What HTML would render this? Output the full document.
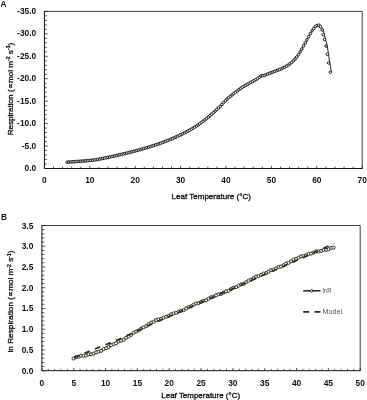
<!DOCTYPE html>
<html><head><meta charset="utf-8"><title>Figure</title>
<style>html,body{margin:0;padding:0;background:#fff}svg{display:block;will-change:transform}</style></head>
<body>
<svg width="367" height="400" viewBox="0 0 367 400" font-family="&quot;Liberation Sans&quot;, sans-serif">
<rect width="367" height="400" fill="#fff"/>
<path d="M44.4 11.4H362.2V168.5" fill="none" stroke="#2a2a2a" stroke-width="0.9"/>
<path d="M44.4 11.0V168.5H362.59999999999997" fill="none" stroke="#151515" stroke-width="1.0"/>
<path d="M44.40 168.5v-2.7M53.48 168.5v-1.8M62.56 168.5v-1.8M71.64 168.5v-1.8M80.72 168.5v-1.8M89.80 168.5v-2.7M98.88 168.5v-1.8M107.96 168.5v-1.8M117.04 168.5v-1.8M126.12 168.5v-1.8M135.20 168.5v-2.7M144.28 168.5v-1.8M153.36 168.5v-1.8M162.44 168.5v-1.8M171.52 168.5v-1.8M180.60 168.5v-2.7M189.68 168.5v-1.8M198.76 168.5v-1.8M207.84 168.5v-1.8M216.92 168.5v-1.8M226.00 168.5v-2.7M235.08 168.5v-1.8M244.16 168.5v-1.8M253.24 168.5v-1.8M262.32 168.5v-1.8M271.40 168.5v-2.7M280.48 168.5v-1.8M289.56 168.5v-1.8M298.64 168.5v-1.8M307.72 168.5v-1.8M316.80 168.5v-2.7M325.88 168.5v-1.8M334.96 168.5v-1.8M344.04 168.5v-1.8M353.12 168.5v-1.8M362.20 168.5v-2.7" stroke="#1a1a1a" stroke-width="0.75" fill="none"/>
<path d="M44.4 11.40h3.4M44.4 15.89h2.4M44.4 20.38h2.4M44.4 24.87h2.4M44.4 29.35h2.4M44.4 33.84h3.4M44.4 38.33h2.4M44.4 42.82h2.4M44.4 47.31h2.4M44.4 51.80h2.4M44.4 56.29h3.4M44.4 60.77h2.4M44.4 65.26h2.4M44.4 69.75h2.4M44.4 74.24h2.4M44.4 78.73h3.4M44.4 83.22h2.4M44.4 87.71h2.4M44.4 92.19h2.4M44.4 96.68h2.4M44.4 101.17h3.4M44.4 105.66h2.4M44.4 110.15h2.4M44.4 114.64h2.4M44.4 119.13h2.4M44.4 123.61h3.4M44.4 128.10h2.4M44.4 132.59h2.4M44.4 137.08h2.4M44.4 141.57h2.4M44.4 146.06h3.4M44.4 150.55h2.4M44.4 155.03h2.4M44.4 159.52h2.4M44.4 164.01h2.4M44.4 168.50h3.4" stroke="#1a1a1a" stroke-width="0.75" fill="none"/>
<text x="36.20" y="14.00" font-size="8.4" text-anchor="end" font-weight="bold" fill="#111">-35.0</text>
<text x="36.20" y="36.44" font-size="8.4" text-anchor="end" font-weight="bold" fill="#111">-30.0</text>
<text x="36.20" y="58.89" font-size="8.4" text-anchor="end" font-weight="bold" fill="#111">-25.0</text>
<text x="36.20" y="81.33" font-size="8.4" text-anchor="end" font-weight="bold" fill="#111">-20.0</text>
<text x="36.20" y="103.77" font-size="8.4" text-anchor="end" font-weight="bold" fill="#111">-15.0</text>
<text x="36.20" y="126.21" font-size="8.4" text-anchor="end" font-weight="bold" fill="#111">-10.0</text>
<text x="36.20" y="148.66" font-size="8.4" text-anchor="end" font-weight="bold" fill="#111">-5.0</text>
<text x="36.20" y="171.10" font-size="8.4" text-anchor="end" font-weight="bold" fill="#111">0.0</text>
<text x="44.40" y="183.30" font-size="8.4" text-anchor="middle" font-weight="bold" fill="#111">0</text>
<text x="89.80" y="183.30" font-size="8.4" text-anchor="middle" font-weight="bold" fill="#111">10</text>
<text x="135.20" y="183.30" font-size="8.4" text-anchor="middle" font-weight="bold" fill="#111">20</text>
<text x="180.60" y="183.30" font-size="8.4" text-anchor="middle" font-weight="bold" fill="#111">30</text>
<text x="226.00" y="183.30" font-size="8.4" text-anchor="middle" font-weight="bold" fill="#111">40</text>
<text x="271.40" y="183.30" font-size="8.4" text-anchor="middle" font-weight="bold" fill="#111">50</text>
<text x="316.80" y="183.30" font-size="8.4" text-anchor="middle" font-weight="bold" fill="#111">60</text>
<text x="362.20" y="183.30" font-size="8.4" text-anchor="middle" font-weight="bold" fill="#111">70</text>
<text x="211.20" y="198.50" font-size="7.8" text-anchor="middle" font-weight="normal" fill="#111" textLength="79.4" lengthAdjust="spacingAndGlyphs" stroke="#111" stroke-width="0.32">Leaf Temperature (°C)</text>
<text transform="translate(13.0,135.3) rotate(-90)" font-size="7.8" font-weight="normal" stroke="#111" stroke-width="0.32" fill="#111" textLength="40.9" lengthAdjust="spacingAndGlyphs">Respiration</text>
<text transform="translate(13.0,92.1) rotate(-90)" font-size="7.8" font-weight="normal" stroke="#111" stroke-width="0.32" fill="#111" textLength="49.3" lengthAdjust="spacingAndGlyphs">(∝mol m<tspan font-size="4.84" dy="-2.81">-2</tspan><tspan dy="2.81"> s</tspan><tspan font-size="4.84" dy="-2.81">-1</tspan><tspan dy="2.81">)</tspan></text>
<text x="0.60" y="6.90" font-size="8.2" text-anchor="start" font-weight="bold" fill="#111">A</text>
<polyline fill="none" stroke="#1a1a1a" stroke-width="1" points="67.20,162.20 67.58,162.17 67.95,162.15 68.33,162.12 68.71,162.10 69.08,162.07 69.46,162.05 69.84,162.02 70.21,161.99 70.59,161.97 70.97,161.94 71.34,161.91 71.72,161.89 72.09,161.86 72.47,161.83 72.85,161.81 73.22,161.78 73.60,161.75 73.98,161.72 74.35,161.70 74.73,161.67 75.11,161.64 75.48,161.61 75.86,161.59 76.24,161.56 76.61,161.53 76.99,161.50 77.37,161.47 77.74,161.44 78.12,161.41 78.50,161.39 78.87,161.36 79.25,161.33 79.63,161.30 80.00,161.27 80.38,161.24 80.76,161.21 81.13,161.18 81.51,161.16 81.88,161.13 82.26,161.10 82.64,161.07 83.01,161.04 83.39,161.02 83.77,160.99 84.14,160.96 84.52,160.93 84.90,160.91 85.27,160.88 85.65,160.85 86.03,160.82 86.40,160.79 86.78,160.76 87.16,160.73 87.53,160.70 87.91,160.67 88.29,160.64 88.66,160.60 89.04,160.57 89.42,160.54 89.79,160.50 90.17,160.47 90.55,160.43 90.92,160.39 91.30,160.35 91.67,160.31 92.05,160.27 92.43,160.23 92.80,160.19 93.18,160.14 93.56,160.09 93.93,160.04 94.31,159.99 94.69,159.93 95.06,159.87 95.44,159.81 95.82,159.75 96.19,159.69 96.57,159.62 96.95,159.56 97.32,159.49 97.70,159.42 98.08,159.35 98.45,159.29 98.83,159.22 99.21,159.15 99.58,159.08 99.96,159.01 100.34,158.94 100.71,158.87 101.09,158.80 101.46,158.73 101.84,158.65 102.22,158.58 102.59,158.50 102.97,158.43 103.35,158.35 103.72,158.28 104.10,158.20 104.48,158.12 104.85,158.04 105.23,157.97 105.61,157.89 105.98,157.81 106.36,157.73 106.74,157.64 107.11,157.56 107.49,157.48 107.87,157.40 108.24,157.32 108.62,157.23 109.00,157.15 109.37,157.07 109.75,156.98 110.13,156.90 110.50,156.81 110.88,156.73 111.25,156.65 111.63,156.56 112.01,156.48 112.38,156.39 112.76,156.31 113.14,156.22 113.51,156.14 113.89,156.05 114.27,155.97 114.64,155.88 115.02,155.80 115.40,155.71 115.77,155.63 116.15,155.54 116.53,155.46 116.90,155.37 117.28,155.28 117.66,155.20 118.03,155.11 118.41,155.03 118.79,154.94 119.16,154.86 119.54,154.77 119.92,154.68 120.29,154.60 120.67,154.51 121.04,154.42 121.42,154.34 121.80,154.25 122.17,154.16 122.55,154.07 122.93,153.99 123.30,153.90 123.68,153.81 124.06,153.72 124.43,153.63 124.81,153.54 125.19,153.45 125.56,153.36 125.94,153.27 126.32,153.18 126.69,153.09 127.07,153.00 127.45,152.91 127.82,152.82 128.20,152.73 128.58,152.64 128.95,152.54 129.33,152.45 129.71,152.36 130.08,152.26 130.46,152.17 130.83,152.07 131.21,151.98 131.59,151.88 131.96,151.79 132.34,151.69 132.72,151.60 133.09,151.50 133.47,151.40 133.85,151.30 134.22,151.20 134.60,151.11 134.98,151.01 135.35,150.91 135.73,150.81 136.11,150.71 136.48,150.60 136.86,150.50 137.24,150.40 137.61,150.30 137.99,150.20 138.37,150.09 138.74,149.99 139.12,149.88 139.50,149.78 139.87,149.68 140.25,149.57 140.62,149.46 141.00,149.36 141.38,149.25 141.75,149.14 142.13,149.04 142.51,148.93 142.88,148.82 143.26,148.71 143.64,148.60 144.01,148.49 144.39,148.38 144.77,148.27 145.14,148.16 145.52,148.05 145.90,147.94 146.27,147.83 146.65,147.71 147.03,147.60 147.40,147.49 147.78,147.37 148.16,147.26 148.53,147.14 148.91,147.03 149.29,146.91 149.66,146.80 150.04,146.68 150.41,146.56 150.79,146.44 151.17,146.33 151.54,146.21 151.92,146.09 152.30,145.97 152.67,145.85 153.05,145.73 153.43,145.61 153.80,145.49 154.18,145.37 154.56,145.24 154.93,145.12 155.31,145.00 155.69,144.87 156.06,144.75 156.44,144.62 156.82,144.50 157.19,144.37 157.57,144.24 157.95,144.11 158.32,143.98 158.70,143.84 159.08,143.71 159.45,143.58 159.83,143.44 160.20,143.31 160.58,143.17 160.96,143.03 161.33,142.90 161.71,142.76 162.09,142.62 162.46,142.48 162.84,142.34 163.22,142.20 163.59,142.05 163.97,141.91 164.35,141.77 164.72,141.62 165.10,141.48 165.48,141.33 165.85,141.19 166.23,141.04 166.61,140.89 166.98,140.74 167.36,140.59 167.74,140.44 168.11,140.29 168.49,140.14 168.87,139.99 169.24,139.83 169.62,139.68 169.99,139.52 170.37,139.37 170.75,139.21 171.12,139.05 171.50,138.90 171.88,138.74 172.25,138.58 172.63,138.42 173.01,138.26 173.38,138.10 173.76,137.94 174.14,137.77 174.51,137.61 174.89,137.45 175.27,137.28 175.64,137.12 176.02,136.95 176.40,136.78 176.77,136.61 177.15,136.44 177.53,136.27 177.90,136.10 178.28,135.92 178.66,135.74 179.03,135.57 179.41,135.39 179.78,135.21 180.16,135.03 180.54,134.85 180.91,134.66 181.29,134.48 181.67,134.30 182.04,134.12 182.42,133.93 182.80,133.75 183.17,133.56 183.55,133.38 183.93,133.19 184.30,133.00 184.68,132.81 185.06,132.62 185.43,132.43 185.81,132.24 186.19,132.04 186.56,131.85 186.94,131.65 187.32,131.45 187.69,131.25 188.07,131.05 188.45,130.84 188.82,130.63 189.20,130.43 189.57,130.21 189.95,130.00 190.33,129.79 190.70,129.57 191.08,129.35 191.46,129.13 191.83,128.90 192.21,128.68 192.59,128.45 192.96,128.22 193.34,127.99 193.72,127.76 194.09,127.52 194.47,127.29 194.85,127.05 195.22,126.81 195.60,126.56 195.98,126.32 196.35,126.07 196.73,125.82 197.11,125.57 197.48,125.32 197.86,125.06 198.24,124.81 198.61,124.55 198.99,124.29 199.36,124.02 199.74,123.76 200.12,123.49 200.49,123.22 200.87,122.94 201.25,122.67 201.62,122.39 202.00,122.10 202.38,121.82 202.75,121.53 203.13,121.24 203.51,120.95 203.88,120.65 204.26,120.36 204.64,120.06 205.01,119.75 205.39,119.45 205.77,119.15 206.14,118.84 206.52,118.53 206.90,118.22 207.27,117.91 207.65,117.60 208.03,117.29 208.40,116.97 208.78,116.65 209.15,116.34 209.53,116.02 209.91,115.70 210.28,115.38 210.66,115.05 211.04,114.73 211.41,114.40 211.79,114.07 212.17,113.74 212.54,113.40 212.92,113.07 213.30,112.73 213.67,112.39 214.05,112.05 214.43,111.70 214.80,111.36 215.18,111.01 215.56,110.66 215.93,110.31 216.31,109.96 216.69,109.61 217.06,109.25 217.44,108.89 217.82,108.54 218.19,108.18 218.57,107.82 218.94,107.45 219.32,107.09 219.70,106.71 220.07,106.33 220.45,105.95 220.83,105.56 221.20,105.16 221.58,104.77 221.96,104.37 222.33,103.96 222.71,103.56 223.09,103.16 223.46,102.76 223.84,102.36 224.22,101.97 224.59,101.57 224.97,101.18 225.35,100.80 225.72,100.42 226.10,100.05 226.48,99.69 226.85,99.34 227.23,98.99 227.61,98.65 227.98,98.31 228.36,97.98 228.73,97.66 229.11,97.33 229.49,97.01 229.86,96.70 230.24,96.38 230.62,96.07 230.99,95.76 231.37,95.46 231.75,95.16 232.12,94.85 232.50,94.55 232.88,94.26 233.25,93.96 233.63,93.66 234.01,93.37 234.38,93.07 234.76,92.78 235.14,92.48 235.51,92.19 235.89,91.90 236.27,91.62 236.64,91.33 237.02,91.04 237.40,90.76 237.77,90.48 238.15,90.21 238.52,89.93 238.90,89.66 239.28,89.39 239.65,89.12 240.03,88.86 240.41,88.60 240.78,88.34 241.16,88.09 241.54,87.84 241.91,87.60 242.29,87.36 242.67,87.12 243.04,86.88 243.42,86.65 243.80,86.42 244.17,86.20 244.55,85.97 244.93,85.75 245.30,85.53 245.68,85.31 246.06,85.09 246.43,84.87 246.81,84.65 247.19,84.43 247.56,84.22 247.94,84.00 248.31,83.79 248.69,83.57 249.07,83.35 249.44,83.13 249.82,82.91 250.20,82.70 250.57,82.49 250.95,82.29 251.33,82.08 251.70,81.88 252.08,81.68 252.46,81.48 252.83,81.28 253.21,81.09 253.59,80.89 253.96,80.69 254.34,80.48 254.72,80.28 255.09,80.08 255.47,79.87 255.85,79.65 256.22,79.44 256.60,79.21 256.98,78.99 257.35,78.75 257.73,78.51 258.10,78.27 258.48,78.01 258.86,77.72 259.23,77.37 259.61,76.99 259.99,76.63 260.36,76.32 260.74,76.09 261.12,75.98 261.49,75.92 261.87,75.87 262.25,75.84 262.62,75.80 263.00,75.76 263.38,75.70 263.75,75.62 264.13,75.50 264.51,75.35 264.88,75.18 265.26,75.01 265.64,74.83 266.01,74.66 266.39,74.50 266.77,74.36 267.14,74.21 267.52,74.07 267.89,73.92 268.27,73.78 268.65,73.63 269.02,73.49 269.40,73.34 269.78,73.20 270.15,73.06 270.53,72.92 270.91,72.77 271.28,72.63 271.66,72.49 272.04,72.35 272.41,72.20 272.79,72.06 273.17,71.92 273.54,71.77 273.92,71.63 274.30,71.49 274.67,71.35 275.05,71.21 275.43,71.07 275.80,70.93 276.18,70.79 276.56,70.65 276.93,70.51 277.31,70.37 277.68,70.23 278.06,70.08 278.44,69.94 278.81,69.79 279.19,69.64 279.57,69.48 279.94,69.32 280.32,69.16 280.70,69.00 281.07,68.84 281.45,68.67 281.83,68.51 282.20,68.34 282.58,68.17 282.96,68.00 283.33,67.82 283.71,67.64 284.09,67.46 284.46,67.27 284.84,67.08 285.22,66.88 285.59,66.68 285.97,66.47 286.35,66.25 286.72,66.03 287.10,65.80 287.47,65.56 287.85,65.31 288.23,65.06 288.60,64.80 288.98,64.53 289.36,64.26 289.73,63.98 290.11,63.68 290.49,63.39 290.86,63.08 291.24,62.77 291.62,62.45 291.99,62.12 292.37,61.78 292.75,61.44 293.12,61.08 293.50,60.71 293.88,60.33 294.25,59.92 294.63,59.50 295.01,59.06 295.38,58.62 295.76,58.15 296.14,57.68 296.51,57.20 296.89,56.71 297.26,56.21 297.64,55.70 298.02,55.17 298.39,54.62 298.77,54.05 299.15,53.47 299.52,52.88 299.90,52.28 300.28,51.66 300.65,51.05 301.03,50.41 301.41,49.75 301.78,49.08 302.16,48.39 302.54,47.70 302.91,47.01 303.29,46.32 303.67,45.64 304.04,44.97 304.42,44.30 304.80,43.63 305.17,42.96 305.55,42.29 305.93,41.61 306.30,40.94 306.68,40.26 307.05,39.58 307.43,38.89 307.81,38.19 308.18,37.48 308.56,36.76 308.94,36.05 309.31,35.35 309.69,34.66 310.07,34.00 310.44,33.36 310.82,32.72 311.20,32.09 311.57,31.46 311.95,30.85 312.33,30.26 312.70,29.70 313.08,29.17 313.46,28.68 313.83,28.22 314.21,27.77 314.59,27.33 314.96,26.93 315.34,26.57 315.72,26.28 316.09,26.05 316.47,25.85 316.84,25.66 317.30,25.49 317.82,25.34 318.33,25.22 318.85,25.14 319.36,25.10 319.88,25.20 320.39,25.55 320.90,26.05 321.33,26.62 321.71,27.15 322.09,27.68 322.46,28.27 322.84,28.96 323.22,29.79 323.59,30.97 323.97,32.64 324.35,34.37 324.72,35.93 325.10,37.46 325.48,38.99 325.85,40.49 326.23,41.92 326.61,43.37 326.98,44.96 327.36,46.83 327.73,49.10 328.11,51.60 328.49,54.12 328.86,56.65 329.24,59.25 329.62,61.76 329.99,64.06 330.37,66.25 330.75,68.35 331.12,70.34 331.50,72.20"/>
<g fill="#fff" stroke="#111" stroke-width="0.95">
<circle cx="67.20" cy="162.20" r="1.3"/>
<circle cx="68.90" cy="162.08" r="1.3"/>
<circle cx="70.60" cy="161.97" r="1.3"/>
<circle cx="72.30" cy="161.85" r="1.3"/>
<circle cx="74.00" cy="161.72" r="1.3"/>
<circle cx="75.70" cy="161.60" r="1.3"/>
<circle cx="77.40" cy="161.47" r="1.3"/>
<circle cx="79.10" cy="161.34" r="1.3"/>
<circle cx="80.80" cy="161.21" r="1.3"/>
<circle cx="82.50" cy="161.08" r="1.3"/>
<circle cx="84.20" cy="160.96" r="1.3"/>
<circle cx="85.90" cy="160.83" r="1.3"/>
<circle cx="87.60" cy="160.69" r="1.3"/>
<circle cx="89.30" cy="160.55" r="1.3"/>
<circle cx="91.00" cy="160.38" r="1.3"/>
<circle cx="92.70" cy="160.20" r="1.3"/>
<circle cx="94.40" cy="159.98" r="1.3"/>
<circle cx="96.10" cy="159.71" r="1.3"/>
<circle cx="97.80" cy="159.40" r="1.3"/>
<circle cx="99.50" cy="159.09" r="1.3"/>
<circle cx="101.20" cy="158.78" r="1.3"/>
<circle cx="102.90" cy="158.44" r="1.3"/>
<circle cx="104.60" cy="158.10" r="1.3"/>
<circle cx="106.30" cy="157.74" r="1.3"/>
<circle cx="108.00" cy="157.37" r="1.3"/>
<circle cx="109.70" cy="156.99" r="1.3"/>
<circle cx="111.40" cy="156.61" r="1.3"/>
<circle cx="113.10" cy="156.23" r="1.3"/>
<circle cx="114.80" cy="155.85" r="1.3"/>
<circle cx="116.50" cy="155.46" r="1.3"/>
<circle cx="118.20" cy="155.08" r="1.3"/>
<circle cx="119.90" cy="154.69" r="1.3"/>
<circle cx="121.60" cy="154.30" r="1.3"/>
<circle cx="123.30" cy="153.90" r="1.3"/>
<circle cx="125.00" cy="153.50" r="1.3"/>
<circle cx="126.70" cy="153.09" r="1.3"/>
<circle cx="128.40" cy="152.68" r="1.3"/>
<circle cx="130.10" cy="152.26" r="1.3"/>
<circle cx="131.80" cy="151.83" r="1.3"/>
<circle cx="133.50" cy="151.39" r="1.3"/>
<circle cx="135.20" cy="150.95" r="1.3"/>
<circle cx="136.90" cy="150.49" r="1.3"/>
<circle cx="138.60" cy="150.03" r="1.3"/>
<circle cx="140.30" cy="149.56" r="1.3"/>
<circle cx="142.00" cy="149.07" r="1.3"/>
<circle cx="143.70" cy="148.58" r="1.3"/>
<circle cx="145.40" cy="148.09" r="1.3"/>
<circle cx="147.10" cy="147.58" r="1.3"/>
<circle cx="148.80" cy="147.06" r="1.3"/>
<circle cx="150.50" cy="146.54" r="1.3"/>
<circle cx="152.20" cy="146.00" r="1.3"/>
<circle cx="153.90" cy="145.46" r="1.3"/>
<circle cx="155.60" cy="144.90" r="1.3"/>
<circle cx="157.30" cy="144.33" r="1.3"/>
<circle cx="159.00" cy="143.74" r="1.3"/>
<circle cx="160.70" cy="143.13" r="1.3"/>
<circle cx="162.40" cy="142.50" r="1.3"/>
<circle cx="164.10" cy="141.86" r="1.3"/>
<circle cx="165.80" cy="141.21" r="1.3"/>
<circle cx="167.50" cy="140.54" r="1.3"/>
<circle cx="169.20" cy="139.85" r="1.3"/>
<circle cx="170.90" cy="139.15" r="1.3"/>
<circle cx="172.60" cy="138.43" r="1.3"/>
<circle cx="174.30" cy="137.70" r="1.3"/>
<circle cx="176.00" cy="136.96" r="1.3"/>
<circle cx="177.70" cy="136.19" r="1.3"/>
<circle cx="179.40" cy="135.39" r="1.3"/>
<circle cx="181.10" cy="134.57" r="1.3"/>
<circle cx="182.80" cy="133.75" r="1.3"/>
<circle cx="184.50" cy="132.90" r="1.3"/>
<circle cx="186.20" cy="132.04" r="1.3"/>
<circle cx="187.90" cy="131.14" r="1.3"/>
<circle cx="189.60" cy="130.20" r="1.3"/>
<circle cx="191.30" cy="129.22" r="1.3"/>
<circle cx="193.00" cy="128.20" r="1.3"/>
<circle cx="194.70" cy="127.14" r="1.3"/>
<circle cx="196.40" cy="126.04" r="1.3"/>
<circle cx="198.10" cy="124.90" r="1.3"/>
<circle cx="199.80" cy="123.72" r="1.3"/>
<circle cx="201.50" cy="122.48" r="1.3"/>
<circle cx="203.20" cy="121.19" r="1.3"/>
<circle cx="204.90" cy="119.85" r="1.3"/>
<circle cx="206.60" cy="118.47" r="1.3"/>
<circle cx="208.30" cy="117.06" r="1.3"/>
<circle cx="210.00" cy="115.62" r="1.3"/>
<circle cx="211.70" cy="114.15" r="1.3"/>
<circle cx="213.40" cy="112.63" r="1.3"/>
<circle cx="215.10" cy="111.08" r="1.3"/>
<circle cx="216.80" cy="109.50" r="1.3"/>
<circle cx="218.50" cy="107.88" r="1.3"/>
<circle cx="220.20" cy="106.21" r="1.3"/>
<circle cx="221.90" cy="104.43" r="1.3"/>
<circle cx="223.60" cy="102.62" r="1.3"/>
<circle cx="225.30" cy="100.85" r="1.3"/>
<circle cx="227.00" cy="99.20" r="1.3"/>
<circle cx="228.70" cy="97.69" r="1.3"/>
<circle cx="230.40" cy="96.25" r="1.3"/>
<circle cx="232.10" cy="94.87" r="1.3"/>
<circle cx="233.80" cy="93.53" r="1.3"/>
<circle cx="235.50" cy="92.20" r="1.3"/>
<circle cx="237.20" cy="90.91" r="1.3"/>
<circle cx="238.90" cy="89.66" r="1.3"/>
<circle cx="240.60" cy="88.47" r="1.3"/>
<circle cx="242.30" cy="87.35" r="1.3"/>
<circle cx="244.00" cy="86.30" r="1.3"/>
<circle cx="245.70" cy="85.29" r="1.3"/>
<circle cx="247.40" cy="84.31" r="1.3"/>
<circle cx="249.10" cy="83.33" r="1.3"/>
<circle cx="250.80" cy="82.37" r="1.3"/>
<circle cx="252.50" cy="81.46" r="1.3"/>
<circle cx="254.20" cy="80.56" r="1.3"/>
<circle cx="255.90" cy="79.62" r="1.3"/>
<circle cx="257.60" cy="78.60" r="1.3"/>
<circle cx="259.30" cy="77.30" r="1.3"/>
<circle cx="261.00" cy="76.00" r="1.3"/>
<circle cx="262.70" cy="75.80" r="1.3"/>
<circle cx="264.40" cy="75.39" r="1.3"/>
<circle cx="266.10" cy="74.62" r="1.3"/>
<circle cx="267.80" cy="73.96" r="1.3"/>
<circle cx="269.50" cy="73.31" r="1.3"/>
<circle cx="271.20" cy="72.66" r="1.3"/>
<circle cx="272.90" cy="72.02" r="1.3"/>
<circle cx="274.60" cy="71.37" r="1.3"/>
<circle cx="276.30" cy="70.74" r="1.3"/>
<circle cx="278.00" cy="70.11" r="1.3"/>
<circle cx="279.70" cy="69.43" r="1.3"/>
<circle cx="281.40" cy="68.70" r="1.3"/>
<circle cx="283.10" cy="67.93" r="1.3"/>
<circle cx="284.80" cy="67.10" r="1.3"/>
<circle cx="286.50" cy="66.16" r="1.3"/>
<circle cx="288.20" cy="65.08" r="1.3"/>
<circle cx="289.90" cy="63.85" r="1.3"/>
<circle cx="291.60" cy="62.46" r="1.3"/>
<circle cx="293.30" cy="60.91" r="1.3"/>
<circle cx="295.00" cy="59.07" r="1.3"/>
<circle cx="296.70" cy="56.96" r="1.3"/>
<circle cx="298.40" cy="54.61" r="1.3"/>
<circle cx="300.10" cy="51.95" r="1.3"/>
<circle cx="301.80" cy="49.05" r="1.3"/>
<circle cx="303.50" cy="45.94" r="1.3"/>
<circle cx="305.20" cy="42.91" r="1.3"/>
<circle cx="306.90" cy="39.86" r="1.3"/>
<circle cx="308.60" cy="36.69" r="1.3"/>
<circle cx="310.30" cy="33.60" r="1.3"/>
<circle cx="312.00" cy="30.77" r="1.3"/>
<circle cx="313.70" cy="28.38" r="1.3"/>
<circle cx="315.40" cy="26.52" r="1.3"/>
<circle cx="317.10" cy="25.54" r="1.3"/>
<circle cx="318.80" cy="25.10" r="1.3"/>
<circle cx="320.50" cy="26.80" r="1.3"/>
<circle cx="322.20" cy="30.00" r="1.3"/>
<circle cx="323.30" cy="34.60" r="1.3"/>
<circle cx="324.50" cy="39.50" r="1.3"/>
<circle cx="326.10" cy="46.00" r="1.3"/>
<circle cx="327.40" cy="54.20" r="1.3"/>
<circle cx="328.70" cy="62.90" r="1.3"/>
<circle cx="330.40" cy="72.20" r="1.3"/>
</g>
<path d="M41.9 225.5H360.2V370.7" fill="none" stroke="#2a2a2a" stroke-width="0.9"/>
<path d="M41.9 225.1V370.7H360.59999999999997" fill="none" stroke="#151515" stroke-width="1.0"/>
<path d="M41.90 370.7v-2.7M48.27 370.7v-1.8M54.63 370.7v-1.8M61.00 370.7v-1.8M67.36 370.7v-1.8M73.73 370.7v-2.7M80.10 370.7v-1.8M86.46 370.7v-1.8M92.83 370.7v-1.8M99.19 370.7v-1.8M105.56 370.7v-2.7M111.93 370.7v-1.8M118.29 370.7v-1.8M124.66 370.7v-1.8M131.02 370.7v-1.8M137.39 370.7v-2.7M143.76 370.7v-1.8M150.12 370.7v-1.8M156.49 370.7v-1.8M162.85 370.7v-1.8M169.22 370.7v-2.7M175.59 370.7v-1.8M181.95 370.7v-1.8M188.32 370.7v-1.8M194.68 370.7v-1.8M201.05 370.7v-2.7M207.42 370.7v-1.8M213.78 370.7v-1.8M220.15 370.7v-1.8M226.51 370.7v-1.8M232.88 370.7v-2.7M239.25 370.7v-1.8M245.61 370.7v-1.8M251.98 370.7v-1.8M258.34 370.7v-1.8M264.71 370.7v-2.7M271.08 370.7v-1.8M277.44 370.7v-1.8M283.81 370.7v-1.8M290.17 370.7v-1.8M296.54 370.7v-2.7M302.91 370.7v-1.8M309.27 370.7v-1.8M315.64 370.7v-1.8M322.00 370.7v-1.8M328.37 370.7v-2.7M334.74 370.7v-1.8M341.10 370.7v-1.8M347.47 370.7v-1.8M353.83 370.7v-1.8M360.20 370.7v-2.7" stroke="#1a1a1a" stroke-width="0.75" fill="none"/>
<path d="M41.9 225.50h3.4M41.9 229.65h2.4M41.9 233.80h2.4M41.9 237.95h2.4M41.9 242.09h2.4M41.9 246.24h3.4M41.9 250.39h2.4M41.9 254.54h2.4M41.9 258.69h2.4M41.9 262.84h2.4M41.9 266.99h3.4M41.9 271.13h2.4M41.9 275.28h2.4M41.9 279.43h2.4M41.9 283.58h2.4M41.9 287.73h3.4M41.9 291.88h2.4M41.9 296.03h2.4M41.9 300.17h2.4M41.9 304.32h2.4M41.9 308.47h3.4M41.9 312.62h2.4M41.9 316.77h2.4M41.9 320.92h2.4M41.9 325.07h2.4M41.9 329.21h3.4M41.9 333.36h2.4M41.9 337.51h2.4M41.9 341.66h2.4M41.9 345.81h2.4M41.9 349.96h3.4M41.9 354.11h2.4M41.9 358.25h2.4M41.9 362.40h2.4M41.9 366.55h2.4M41.9 370.70h3.4" stroke="#1a1a1a" stroke-width="0.75" fill="none"/>
<text x="33.30" y="228.50" font-size="8.4" text-anchor="end" font-weight="bold" fill="#111">3.5</text>
<text x="33.30" y="249.24" font-size="8.4" text-anchor="end" font-weight="bold" fill="#111">3.0</text>
<text x="33.30" y="269.99" font-size="8.4" text-anchor="end" font-weight="bold" fill="#111">2.5</text>
<text x="33.30" y="290.73" font-size="8.4" text-anchor="end" font-weight="bold" fill="#111">2.0</text>
<text x="33.30" y="311.47" font-size="8.4" text-anchor="end" font-weight="bold" fill="#111">1.5</text>
<text x="33.30" y="332.21" font-size="8.4" text-anchor="end" font-weight="bold" fill="#111">1.0</text>
<text x="33.30" y="352.96" font-size="8.4" text-anchor="end" font-weight="bold" fill="#111">0.5</text>
<text x="33.30" y="373.70" font-size="8.4" text-anchor="end" font-weight="bold" fill="#111">0.0</text>
<text x="41.90" y="385.50" font-size="8.4" text-anchor="middle" font-weight="bold" fill="#111">0</text>
<text x="73.73" y="385.50" font-size="8.4" text-anchor="middle" font-weight="bold" fill="#111">5</text>
<text x="105.56" y="385.50" font-size="8.4" text-anchor="middle" font-weight="bold" fill="#111">10</text>
<text x="137.39" y="385.50" font-size="8.4" text-anchor="middle" font-weight="bold" fill="#111">15</text>
<text x="169.22" y="385.50" font-size="8.4" text-anchor="middle" font-weight="bold" fill="#111">20</text>
<text x="201.05" y="385.50" font-size="8.4" text-anchor="middle" font-weight="bold" fill="#111">25</text>
<text x="232.88" y="385.50" font-size="8.4" text-anchor="middle" font-weight="bold" fill="#111">30</text>
<text x="264.71" y="385.50" font-size="8.4" text-anchor="middle" font-weight="bold" fill="#111">35</text>
<text x="296.54" y="385.50" font-size="8.4" text-anchor="middle" font-weight="bold" fill="#111">40</text>
<text x="328.37" y="385.50" font-size="8.4" text-anchor="middle" font-weight="bold" fill="#111">45</text>
<text x="360.20" y="385.50" font-size="8.4" text-anchor="middle" font-weight="bold" fill="#111">50</text>
<text x="200.70" y="398.40" font-size="7.8" text-anchor="middle" font-weight="normal" fill="#111" textLength="78.8" lengthAdjust="spacingAndGlyphs" stroke="#111" stroke-width="0.32">Leaf Temperature (°C)</text>
<text transform="translate(13.4,352.6) rotate(-90)" font-size="7.8" font-weight="normal" stroke="#111" stroke-width="0.32" fill="#111" textLength="50.6" lengthAdjust="spacingAndGlyphs">ln Respiration</text>
<text transform="translate(13.4,299.8) rotate(-90)" font-size="7.8" font-weight="normal" stroke="#111" stroke-width="0.32" fill="#111" textLength="49.3" lengthAdjust="spacingAndGlyphs">(∝mol m<tspan font-size="4.84" dy="-2.81">-2</tspan><tspan dy="2.81"> s</tspan><tspan font-size="4.84" dy="-2.81">-1</tspan><tspan dy="2.81">)</tspan></text>
<text x="1.00" y="220.00" font-size="8.2" text-anchor="start" font-weight="bold" fill="#111">B</text>
<polyline fill="none" stroke="#1a1a1a" stroke-width="1" points="73.60,358.50 76.10,357.18 78.60,356.67 81.10,355.70 83.60,355.74 86.10,355.49 88.60,354.38 91.10,354.15 93.60,353.65 96.10,352.28 98.60,351.68 101.10,350.85 103.60,349.13 106.10,348.21 108.60,347.08 111.10,345.11 113.60,344.15 116.10,343.21 118.60,341.45 121.10,340.61 123.60,339.77 126.10,337.77 128.60,336.36 131.10,334.96 133.60,332.70 136.10,331.46 138.60,330.50 141.10,328.57 143.60,327.36 146.10,326.24 148.60,324.08 151.10,322.72 153.60,321.78 156.10,320.10 158.60,319.39 161.10,319.04 163.60,317.61 166.10,316.70 168.60,316.02 171.10,314.32 173.60,313.38 176.10,312.99 178.60,311.60 181.10,310.74 183.60,310.20 186.10,308.45 188.60,307.12 191.10,306.32 193.60,304.60 196.10,303.51 198.60,303.14 201.10,301.79 203.60,300.79 206.10,300.28 208.60,298.62 211.10,297.28 213.60,296.70 216.10,295.24 218.60,294.20 221.10,293.93 223.60,292.59 226.10,291.35 228.60,290.73 231.10,289.07 233.60,287.62 236.10,287.08 238.60,285.66 241.10,284.37 243.60,283.82 246.10,282.23 248.60,280.58 251.10,279.76 253.60,278.09 256.10,276.55 258.60,276.07 261.10,274.83 263.60,273.57 266.10,273.13 268.60,271.73 271.10,270.16 273.60,269.58 276.10,268.31 278.60,266.97 281.10,266.58 283.60,265.27 286.10,263.61 288.60,262.85 291.10,261.32 293.60,259.52 296.10,258.87 298.60,257.67 301.10,256.29 303.60,256.09 306.10,255.24 308.60,253.91 311.10,253.56 313.60,252.65 316.10,251.41 318.60,251.37 321.10,250.91 323.60,249.93 326.10,249.90 328.60,249.25 331.10,247.94 333.60,247.67"/>
<g fill="#fff" stroke="#151a10" stroke-width="0.9">
<circle cx="73.60" cy="358.50" r="1.55"/>
<circle cx="76.10" cy="357.18" r="1.55"/>
<circle cx="78.60" cy="356.67" r="1.55"/>
<circle cx="81.10" cy="355.70" r="1.55"/>
<circle cx="83.60" cy="355.74" r="1.55"/>
<circle cx="86.10" cy="355.49" r="1.55"/>
<circle cx="88.60" cy="354.38" r="1.55"/>
<circle cx="91.10" cy="354.15" r="1.55"/>
<circle cx="93.60" cy="353.65" r="1.55"/>
<circle cx="96.10" cy="352.28" r="1.55"/>
<circle cx="98.60" cy="351.68" r="1.55"/>
<circle cx="101.10" cy="350.85" r="1.55"/>
<circle cx="103.60" cy="349.13" r="1.55"/>
<circle cx="106.10" cy="348.21" r="1.55"/>
<circle cx="108.60" cy="347.08" r="1.55"/>
<circle cx="111.10" cy="345.11" r="1.55"/>
<circle cx="113.60" cy="344.15" r="1.55"/>
<circle cx="116.10" cy="343.21" r="1.55"/>
<circle cx="118.60" cy="341.45" r="1.55"/>
<circle cx="121.10" cy="340.61" r="1.55"/>
<circle cx="123.60" cy="339.77" r="1.55"/>
<circle cx="126.10" cy="337.77" r="1.55"/>
<circle cx="128.60" cy="336.36" r="1.55"/>
<circle cx="131.10" cy="334.96" r="1.55"/>
<circle cx="133.60" cy="332.70" r="1.55"/>
<circle cx="136.10" cy="331.46" r="1.55"/>
<circle cx="138.60" cy="330.50" r="1.55"/>
<circle cx="141.10" cy="328.57" r="1.55"/>
<circle cx="143.60" cy="327.36" r="1.55"/>
<circle cx="146.10" cy="326.24" r="1.55"/>
<circle cx="148.60" cy="324.08" r="1.55"/>
<circle cx="151.10" cy="322.72" r="1.55"/>
<circle cx="153.60" cy="321.78" r="1.55"/>
<circle cx="156.10" cy="320.10" r="1.55"/>
<circle cx="158.60" cy="319.39" r="1.55"/>
<circle cx="161.10" cy="319.04" r="1.55"/>
<circle cx="163.60" cy="317.61" r="1.55"/>
<circle cx="166.10" cy="316.70" r="1.55"/>
<circle cx="168.60" cy="316.02" r="1.55"/>
<circle cx="171.10" cy="314.32" r="1.55"/>
<circle cx="173.60" cy="313.38" r="1.55"/>
<circle cx="176.10" cy="312.99" r="1.55"/>
<circle cx="178.60" cy="311.60" r="1.55"/>
<circle cx="181.10" cy="310.74" r="1.55"/>
<circle cx="183.60" cy="310.20" r="1.55"/>
<circle cx="186.10" cy="308.45" r="1.55"/>
<circle cx="188.60" cy="307.12" r="1.55"/>
<circle cx="191.10" cy="306.32" r="1.55"/>
<circle cx="193.60" cy="304.60" r="1.55"/>
<circle cx="196.10" cy="303.51" r="1.55"/>
<circle cx="198.60" cy="303.14" r="1.55"/>
<circle cx="201.10" cy="301.79" r="1.55"/>
<circle cx="203.60" cy="300.79" r="1.55"/>
<circle cx="206.10" cy="300.28" r="1.55"/>
<circle cx="208.60" cy="298.62" r="1.55"/>
<circle cx="211.10" cy="297.28" r="1.55"/>
<circle cx="213.60" cy="296.70" r="1.55"/>
<circle cx="216.10" cy="295.24" r="1.55"/>
<circle cx="218.60" cy="294.20" r="1.55"/>
<circle cx="221.10" cy="293.93" r="1.55"/>
<circle cx="223.60" cy="292.59" r="1.55"/>
<circle cx="226.10" cy="291.35" r="1.55"/>
<circle cx="228.60" cy="290.73" r="1.55"/>
<circle cx="231.10" cy="289.07" r="1.55"/>
<circle cx="233.60" cy="287.62" r="1.55"/>
<circle cx="236.10" cy="287.08" r="1.55"/>
<circle cx="238.60" cy="285.66" r="1.55"/>
<circle cx="241.10" cy="284.37" r="1.55"/>
<circle cx="243.60" cy="283.82" r="1.55"/>
<circle cx="246.10" cy="282.23" r="1.55"/>
<circle cx="248.60" cy="280.58" r="1.55"/>
<circle cx="251.10" cy="279.76" r="1.55"/>
<circle cx="253.60" cy="278.09" r="1.55"/>
<circle cx="256.10" cy="276.55" r="1.55"/>
<circle cx="258.60" cy="276.07" r="1.55"/>
<circle cx="261.10" cy="274.83" r="1.55"/>
<circle cx="263.60" cy="273.57" r="1.55"/>
<circle cx="266.10" cy="273.13" r="1.55"/>
<circle cx="268.60" cy="271.73" r="1.55"/>
<circle cx="271.10" cy="270.16" r="1.55"/>
<circle cx="273.60" cy="269.58" r="1.55"/>
<circle cx="276.10" cy="268.31" r="1.55"/>
<circle cx="278.60" cy="266.97" r="1.55"/>
<circle cx="281.10" cy="266.58" r="1.55"/>
<circle cx="283.60" cy="265.27" r="1.55"/>
<circle cx="286.10" cy="263.61" r="1.55"/>
<circle cx="288.60" cy="262.85" r="1.55"/>
<circle cx="291.10" cy="261.32" r="1.55"/>
<circle cx="293.60" cy="259.52" r="1.55"/>
<circle cx="296.10" cy="258.87" r="1.55"/>
<circle cx="298.60" cy="257.67" r="1.55"/>
<circle cx="301.10" cy="256.29" r="1.55"/>
<circle cx="303.60" cy="256.09" r="1.55"/>
<circle cx="306.10" cy="255.24" r="1.55"/>
<circle cx="308.60" cy="253.91" r="1.55"/>
<circle cx="311.10" cy="253.56" r="1.55"/>
<circle cx="313.60" cy="252.65" r="1.55"/>
<circle cx="316.10" cy="251.41" r="1.55"/>
<circle cx="318.60" cy="251.37" r="1.55"/>
<circle cx="321.10" cy="250.91" r="1.55"/>
<circle cx="323.60" cy="249.93" r="1.55"/>
<circle cx="326.10" cy="249.90" r="1.55"/>
<circle cx="328.60" cy="249.25" r="1.55"/>
<circle cx="331.10" cy="247.94" r="1.55"/>
<circle cx="333.60" cy="247.67" r="1.55"/>
</g>
<path d="M74 357.6L98.2 347.6L119.5 339.1L138.3 330.4L158.2 321.2L290 263.5L334.4 243.4" fill="none" stroke="#22331a" stroke-width="1.7" stroke-dasharray="5.6 5.75"/>
<path d="M303.2 290.8H320.5" stroke="#111" stroke-width="1.4"/>
<circle cx="311.6" cy="290.8" r="1.3" fill="#fff" stroke="#111" stroke-width="0.9"/>
<text x="322.50" y="293.00" font-size="6.6" text-anchor="start" font-weight="normal" fill="#555" textLength="9.2" lengthAdjust="spacingAndGlyphs">lnR</text>
<path d="M303.2 311.8H320.5" stroke="#22331a" stroke-width="1.8" stroke-dasharray="6 5.3"/>
<text x="322.50" y="314.20" font-size="6.6" text-anchor="start" font-weight="normal" fill="#555" textLength="19.6" lengthAdjust="spacingAndGlyphs">Model</text>
</svg>
</body></html>
